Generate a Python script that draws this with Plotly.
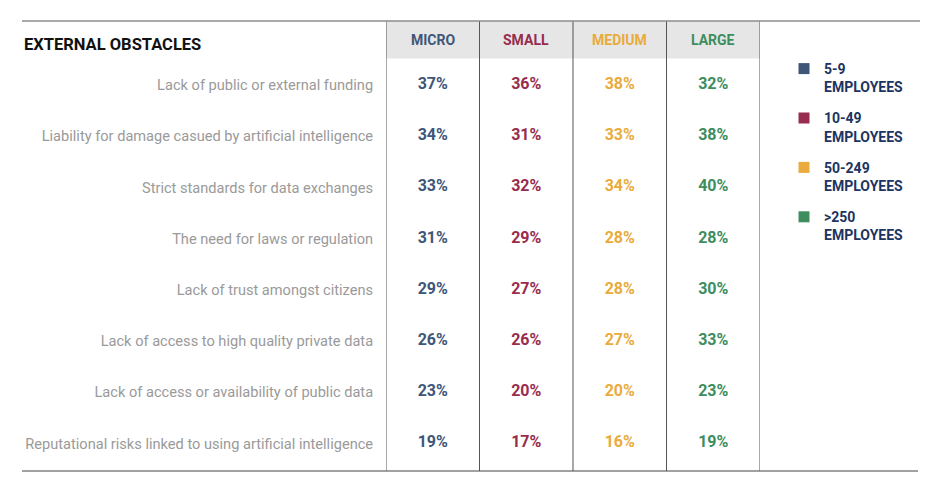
import plotly.graph_objects as go

# the page body has an 8px margin, so the figure is sized to the visible area
OFF = 8
W, H = 943 - OFF, 495 - OFF

obstacles = [
    "Lack of public or external funding",
    "Liability for damage casued by artificial intelligence",
    "Strict standards for data exchanges",
    "The need for laws or regulation",
    "Lack of trust amongst citizens",
    "Lack of access to high quality private data",
    "Lack of access or availability of public data",
    "Reputational risks linked to using artificial intelligence",
]
sizes = ["MICRO", "SMALL", "MEDIUM", "LARGE"]
size_legend = ["5-9<br>EMPLOYEES", "10-49<br>EMPLOYEES", "50-249<br>EMPLOYEES", ">250<br>EMPLOYEES"]

micro = [37, 34, 33, 31, 29, 26, 23, 19]
small = [36, 31, 32, 29, 27, 26, 20, 17]
medium = [38, 33, 34, 28, 28, 27, 20, 16]
large = [32, 38, 40, 28, 30, 33, 23, 19]

colors = ["#3f5678", "#972c4e", "#e9ab3c", "#3e8d5e"]

HEAD = "Roboto, sans-serif"


def px_x(v):
    # page pixel -> paper x
    return (v - OFF) / W


def px_y(v):
    # page pixel -> paper y
    return 1 - (v - OFF) / H


fig = go.Figure()

for name, vals, col in zip(sizes, [micro, small, medium, large], colors):
    fig.add_trace(go.Scatter(
        x=[name] * len(obstacles),
        y=obstacles,
        mode="text",
        text=[f"{v}%" for v in vals],
        textfont=dict(family="Roboto", size=16, color=col, weight="bold"),
        showlegend=False,
        hoverinfo="skip",
    ))

# legend entries
for i, (lab, col) in enumerate(zip(size_legend, colors)):
    fig.add_trace(go.Scatter(
        x=[None], y=[None], mode="markers", name=lab,
        marker=dict(symbol="square", size=11, color=col),
        legendgroup=str(i),
    ))

top_y, band_y, bottom_y = 21, 58.4, 471
x_left, x_right = 386, 760

# header band
fig.add_shape(type="rect", xref="x", yref="paper", x0=-0.5, x1=3.5,
              y0=px_y(band_y), y1=px_y(top_y), fillcolor="#e6e6e6",
              line_width=0, layer="below")
# column dividers
for k in range(5):
    fig.add_shape(type="line", xref="x", yref="paper", x0=k - 0.5, x1=k - 0.5,
                  y0=px_y(bottom_y), y1=px_y(top_y), line=dict(color="#555555", width=1))
# top and bottom rules
fig.add_shape(type="line", xref="paper", yref="paper", x0=px_x(22), x1=px_x(920),
              y0=px_y(top_y), y1=px_y(top_y), line=dict(color="#8c8c8c", width=1.5))
fig.add_shape(type="line", xref="paper", yref="paper", x0=px_x(22), x1=px_x(918),
              y0=px_y(bottom_y), y1=px_y(bottom_y), line=dict(color="#444444", width=1.2))

# column headers
for name, col in zip(sizes, colors):
    fig.add_annotation(x=name, xref="x", y=px_y(40.5), yref="paper", yanchor="middle",
                       text=f"<b>{name}</b>", showarrow=False,
                       font=dict(family=HEAD, size=14, color=col))

fig.add_annotation(x=px_x(22), y=px_y(44.5), xref="paper", yref="paper",
                   xanchor="left", yanchor="middle",
                   text="<b>EXTERNAL OBSTACLES</b>", showarrow=False,
                   font=dict(family=HEAD, size=16.5, color="#111111"))

row_h = 51.2
fig.update_layout(
    width=W, height=H,
    margin=dict(l=0, r=0, t=0, b=0),
    paper_bgcolor="white", plot_bgcolor="white",
    xaxis=dict(domain=[px_x(x_left), px_x(x_right)], range=[-0.5, 3.5],
               categoryorder="array", categoryarray=sizes,
               showticklabels=False, showgrid=False, zeroline=False, fixedrange=True),
    yaxis=dict(domain=[px_y(85 + 7.5 * row_h), px_y(85 - 0.5 * row_h)],
               range=[7.5, -0.5], categoryorder="array", categoryarray=obstacles,
               showgrid=False, zeroline=False, ticks="outside", ticklen=9,
               tickcolor="rgba(0,0,0,0)",
               tickfont=dict(family="Roboto", size=14.6, color="#9a9a9a")),
    legend=dict(x=px_x(784), y=px_y(53), xanchor="left", yanchor="top",
                valign="top", tracegroupgap=10, itemwidth=30,
                font=dict(family=HEAD, size=14, color="#1d3461", weight="bold")),
    showlegend=True,
)

fig.write_html("out.html")
